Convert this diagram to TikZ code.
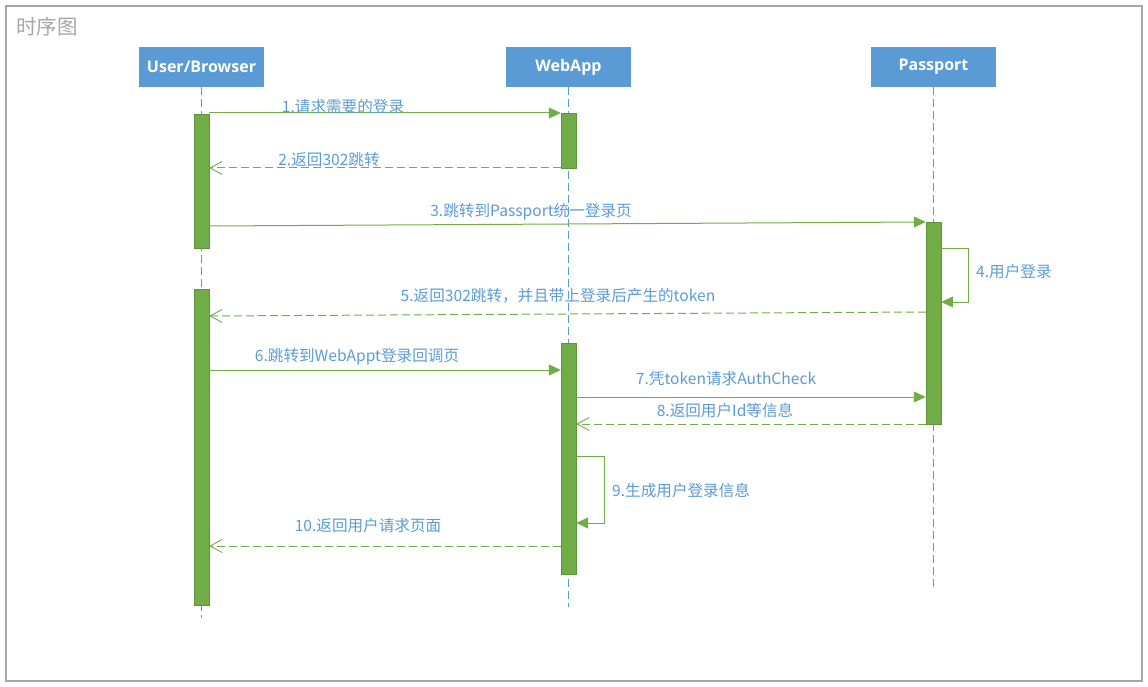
\documentclass[tikz,border=0pt]{standalone}
\usepackage{fontspec}
\setmainfont{Noto Sans CJK SC}
\newfontfamily\boxfont{Open Sans}
\usetikzlibrary{arrows.meta}
\definecolor{actblue}{HTML}{5B9BD5}
\definecolor{txtblue}{HTML}{5B9BD5}
\definecolor{grn}{HTML}{70AD47}
\definecolor{frame}{HTML}{A6A6A6}
\tikzset{
  actor/.style={fill=actblue, draw=none, minimum width=125pt, minimum height=40pt, inner sep=0pt, text=white, font=\boxfont\bfseries\fontsize{16}{19}\selectfont},
  lifeline/.style={draw=actblue, line width=1pt, dash pattern=on 8pt off 4pt},
  actbar/.style={fill=grn, draw=grn!85!black, line width=0.4pt, minimum width=15pt, inner sep=0pt, anchor=north},
  callmsg/.style={draw=grn, line width=1pt, -{Triangle[length=12pt,width=11pt]}},
  retmsg/.style={draw=grn, line width=1pt, dash pattern=on 8pt off 4pt, -{Straight Barb[length=12pt,width=13pt,line width=0.9pt]}},
  lbl/.style={text=txtblue, font=\fontsize{15.6}{18}\selectfont, inner sep=0pt, yshift=-1.5pt},
}
\begin{document}
\begin{tikzpicture}[x=1pt,y=-1pt]
\useasboundingbox (0,0) rectangle (1148,687);
\draw[frame, line width=1.3pt] (6,6) rectangle (1142,681);
\node[anchor=west, text=frame, font=\fontsize{20.5}{24}\selectfont, inner sep=0pt] (title) at (16,27) {时序图};

% actors
\node[actor] (ub) at (201.5,67) {\raisebox{-1.5pt}{User/Browser}};
\node[actor] (wb) at (568.5,67) {\raisebox{-1.5pt}{WebApp}};
\node[actor] (pp) at (933.5,67) {\raisebox{-1.5pt}{Passport}};

% lifeline ends
\coordinate (ube) at (201.5,618);
\coordinate (wbe) at (568.5,607);
\coordinate (ppe) at (933.5,587);
\draw[lifeline] (ub.south) -- (ube);
\draw[lifeline] (wb.south) -- (wbe);
\draw[lifeline] (pp.south) -- (ppe);

% activations
\node[actbar, minimum height=134pt] (u1) at (201.5,114) {};
\node[actbar, minimum height=316pt] (u2) at (201.5,289) {};
\node[actbar, minimum height=55pt] (w1) at (568.5,113) {};
\node[actbar, minimum height=231pt] (w2) at (568.5,343) {};
\node[actbar, minimum height=202pt] (p1) at (933.5,222) {};

% messages
\draw[callmsg] (u1.east |- 0,113) -- (w1.west |- 0,113);
\node[lbl] (l1) at (343,105) {1.请求需要的登录};

\draw[retmsg] (w1.west |- 0,168) -- (u1.east |- 0,168);
\node[lbl] (l2) at (329,158) {2.返回302跳转};

\draw[callmsg] (u1.east |- 0,226) -- (p1.west |- 0,222);
\node[lbl] (l3) at (531,210) {3.跳转到Passport统一登录页};

\coordinate (s4a) at (968,248);
\coordinate (s4b) at (968,302);
\draw[callmsg] (p1.east |- s4a) -- (s4a) -- (s4b) -- (p1.east |- s4b);
\node[lbl, anchor=west] (l4) at (976,270) {4.用户登录};

\draw[retmsg] (p1.west |- 0,312) -- (u2.east |- 0,316);
\node[lbl] (l5) at (558,294) {5.返回302跳转，并且带上登录后产生的token};

\draw[callmsg] (u2.east |- 0,370) -- (w2.west |- 0,370);
\node[lbl] (l6) at (357,355) {6.跳转到WebAppt登录回调页};

\draw[callmsg] (w2.east |- 0,397) -- (p1.west |- 0,397);
\node[lbl] (l7) at (726,377) {7.凭token请求AuthCheck};

\draw[retmsg] (p1.west |- 0,424) -- (w2.east |- 0,424);
\node[lbl] (l8) at (725,409) {8.返回用户Id等信息};

\coordinate (s9a) at (604,456);
\coordinate (s9b) at (604,523);
\draw[callmsg] (w2.east |- s9a) -- (s9a) -- (s9b) -- (w2.east |- s9b);
\node[lbl, anchor=west] (l9) at (612,489) {9.生成用户登录信息};

\draw[retmsg] (w2.west |- 0,546) -- (u2.east |- 0,546);
\node[lbl] (l10) at (368,524) {10.返回用户请求页面};
\end{tikzpicture}
\end{document}
